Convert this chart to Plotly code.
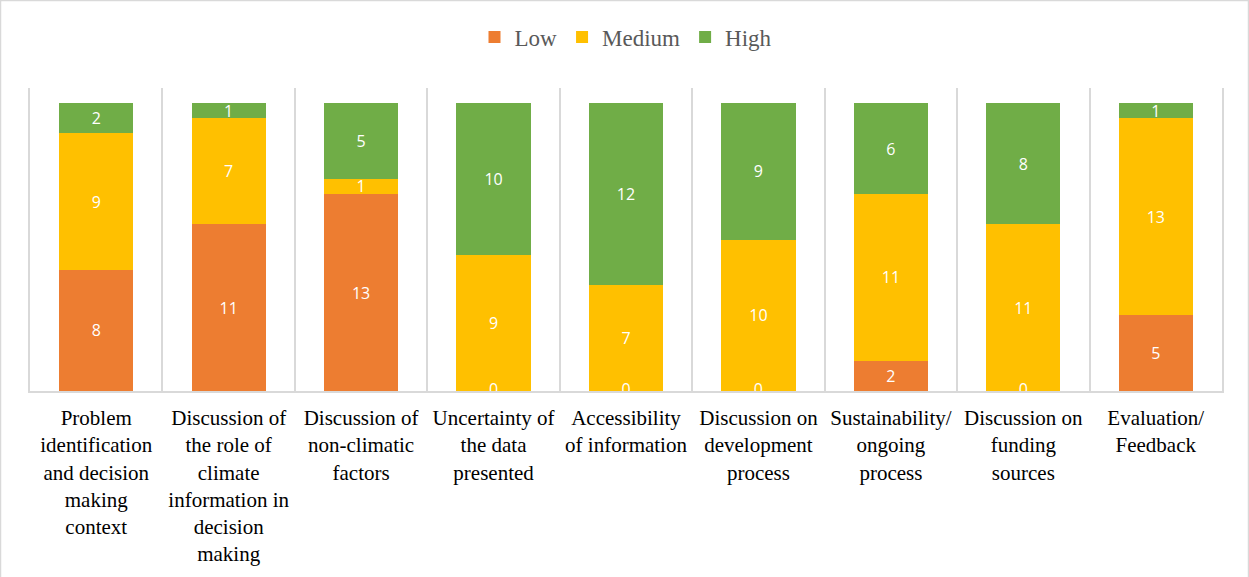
import plotly.graph_objects as go

categories = [
    "Problem<br>identification<br>and decision<br>making<br>context",
    "Discussion of<br>the role of<br>climate<br>information in<br>decision<br>making",
    "Discussion of<br>non-climatic<br>factors",
    "Uncertainty of<br>the data<br>presented",
    "Accessibility<br>of information",
    "Discussion on<br>development<br>process",
    "Sustainability/<br>ongoing<br>process",
    "Discussion on<br>funding<br>sources",
    "Evaluation/<br>Feedback",
]
low = [8, 11, 13, 0, 0, 0, 2, 0, 5]
medium = [9, 7, 1, 9, 7, 10, 11, 11, 13]
high = [2, 1, 5, 10, 12, 9, 6, 8, 1]

colors = {"Low": "#ED7D31", "Medium": "#FFC000", "High": "#70AD47"}
label_font = dict(family="Open Sans, Liberation Sans, sans-serif", size=16, color="white")

fig = go.Figure()
for name, vals in [("Low", low), ("Medium", medium), ("High", high)]:
    fig.add_trace(go.Bar(
        name=name, x=categories, y=vals,
        marker=dict(color=colors[name], line=dict(width=0)),
        text=[str(v) if v != 0 else "" for v in vals],
        textposition="inside", insidetextanchor="middle",
        textfont=label_font, textangle=0, constraintext="none",
    ))

# zero-value labels of the Low series, drawn at the baseline (clipped like the original)
zx = [c for c, v in zip(categories, low) if v == 0]
zt = [str(v) for v in low if v == 0]
fig.add_trace(go.Scatter(
    x=zx, y=[0] * len(zx), text=zt, mode="text",
    textposition="middle center", textfont=label_font,
    cliponaxis=True, showlegend=False, hoverinfo="skip",
))

W, H = 1249, 577
ml, mr, mt, mb = 30, 27, 88, 186
pw, ph = W - ml - mr, H - mt - mb

def px_x(p):
    return (p - ml) / pw

def px_y(p):
    return (H - mb - p) / ph

fig.add_shape(type="rect", xref="paper", yref="paper",
              x0=px_x(0.5), x1=px_x(W - 0.5), y0=px_y(H + 5), y1=px_y(0.5),
              line=dict(color="#d9d9d9", width=1.5), fillcolor="rgba(0,0,0,0)", layer="above")

fig.update_layout(
    barmode="stack",
    bargap=0.44,
    width=W, height=H,
    margin=dict(l=ml, r=mr, t=mt, b=mb),
    paper_bgcolor="white", plot_bgcolor="white",
    uniformtext=dict(minsize=16, mode="show"),
    legend=dict(orientation="h", x=0.5, xanchor="center", y=px_y(37), yanchor="middle",
                font=dict(family="Liberation Serif, Times New Roman, serif", size=23, color="#595959"),
                itemwidth=30, traceorder="normal"),
    xaxis=dict(type="category", tickson="boundaries", showgrid=True, gridcolor="#d9d9d9",
               gridwidth=1.5, showline=True, linecolor="#d9d9d9", linewidth=1.5,
               ticks="", range=[-0.5, 8.5], ticklabelstandoff=7,
               tickfont=dict(family="Liberation Serif, Times New Roman, serif", size=21, color="black")),
    yaxis=dict(range=[0, 20], showgrid=False, showticklabels=False, zeroline=False,
               showline=True, mirror=True, linecolor="#d9d9d9", linewidth=1.5),
    showlegend=True,
)

fig.write_html("out.html", config={"displayModeBar": False},
               post_script="document.body.style.margin='0';")
